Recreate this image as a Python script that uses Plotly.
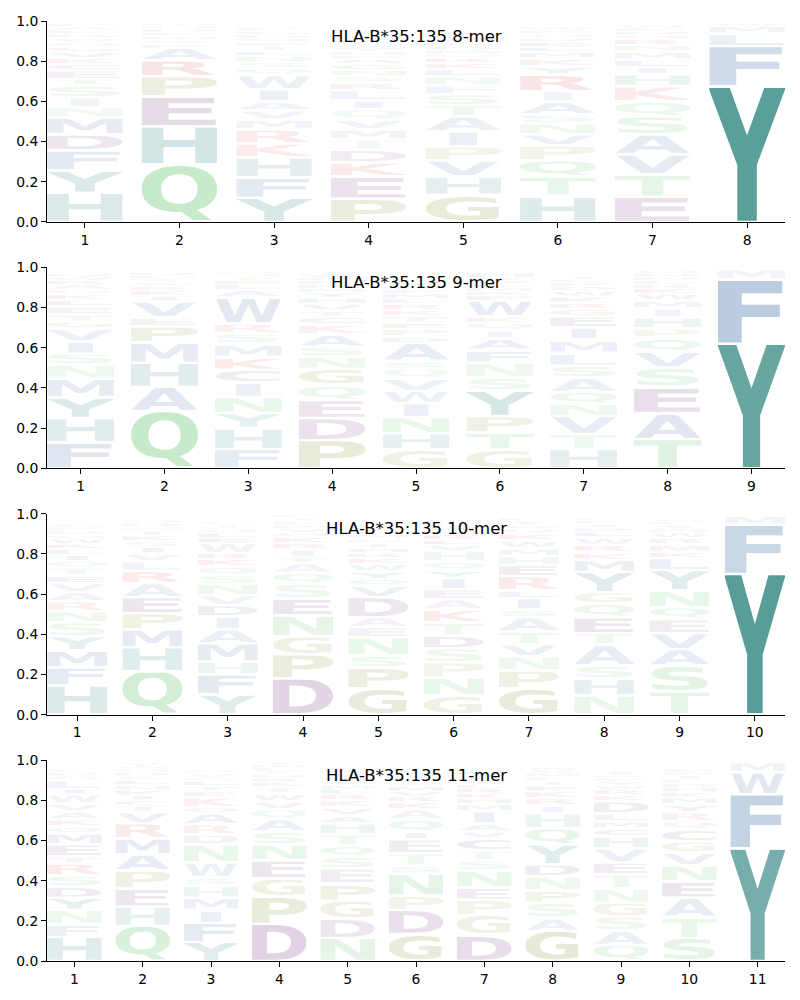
import base64

import plotly.graph_objects as go
from plotly.subplots import make_subplots

# ---- data: letters bottom -> top per position, with heights ----
TITLES = ["HLA-B*35:135 8-mer", "HLA-B*35:135 9-mer", "HLA-B*35:135 10-mer", "HLA-B*35:135 11-mer"]

MER8_LETTERS = [
    "HYFDMNISTECKVGQWRLAP",
    "QHEPRAKSMLDGN",
    "YFHKRMVAIWQSNLTEGDCP",
    "PEKDTMVQILRSNGAFHYCW",
    "GHVPIATSFNLKRQMDEWCY",
    "HTQPVNSAIRYKMLEDGFW",
    "ETVASQKHILMNRGDFW",
    "YFLMW",
]
MER8_HEIGHTS = [
    [.145, .11, .10, .08, .085, .05, .05, .06, .03, .045, .03, .03, .03, .025, .025, .02, .02, .02, .015, .02],
    [.285, .19, .15, .10, .08, .06, .02, .02, .02, .02, .015, .015, .015],
    [.12, .10, .10, .07, .07, .05, .045, .045, .06, .07, .035, .03, .03, .025, .025, .02, .02, .015, .02, .02],
    [.115, .11, .07, .065, .05, .05, .05, .05, .045, .05, .04, .03, .03, .03, .025, .02, .02, .02, .015, .02],
    [.135, .09, .08, .07, .075, .075, .055, .055, .045, .045, .035, .03, .025, .02, .02, .02, .02, .02, .015, .015],
    [.13, .095, .08, .075, .055, .055, .045, .065, .05, .085, .04, .04, .03, .025, .025, .02, .02, .02, .015],
    [.125, .11, .10, .10, .09, .075, .075, .06, .035, .04, .04, .03, .03, .02, .02, .015, .015],
    [.675, .20, .065, .035, .015],
]

MER9_LETTERS = [
    "FHYMNSIVGTELKQARWD",
    "QAHMPEVIKRSTLD",
    "FHYNICKMSRWALETGQ",
    "PDEQGNSAKCTVHYMRLFW",
    "GHNIWVQSADPETKRLMFCY",
    "GTPYSNFAIQKWERMLDVH",
    "HTVNQASLMIEGRKWDFCY",
    "TAESVQPHIMWKRLNDG",
    "YFM",
]
MER9_HEIGHTS = [
    [.13, .12, .105, .09, .07, .055, .06, .065, .035, .035, .04, .035, .025, .025, .025, .02, .02, .015],
    [.285, .12, .12, .10, .08, .045, .08, .03, .025, .02, .02, .02, .015, .015],
    [.095, .105, .075, .08, .07, .065, .065, .065, .05, .05, .13, .04, .025, .02, .02, .015, .015],
    [.14, .11, .09, .075, .08, .06, .05, .06, .05, .04, .03, .035, .03, .025, .02, .02, .02, .015, .02],
    [.095, .08, .08, .07, .06, .06, .05, .04, .09, .03, .04, .03, .035, .03, .03, .025, .025, .02, .015, .03],
    [.095, .085, .08, .13, .065, .07, .065, .055, .04, .04, .03, .08, .025, .02, .02, .02, .015, .015, .025],
    [.095, .075, .09, .06, .06, .07, .06, .065, .065, .06, .055, .04, .03, .03, .03, .02, .02, .015, .015],
    [.145, .13, .13, .095, .08, .07, .045, .055, .045, .04, .035, .025, .02, .02, .02, .015, .015],
    [.62, .32, .05],
]

MER10_LETTERS = [
    "HFMYSNRAVETQILKWGDPC",
    "QHMPEARLVISKTNDG",
    "YFHMAIDVNSQKRWELGTC",
    "DPGNESQATIRKHVMLYF",
    "GPSNEADVQYWKRHTLMFIC",
    "GNPSDTKAEIYQHVLRMWFC",
    "GPNVTASILREHMWKQDYF",
    "NHSATEQGYMKRWLDIFP",
    "TSAVEQNYLKMRWHIFG",
    "YFM",
]
MER10_HEIGHTS = [
    [.145, .09, .085, .07, .07, .055, .05, .045, .045, .04, .035, .035, .03, .03, .025, .025, .02, .02, .02, .015],
    [.215, .12, .09, .08, .08, .07, .06, .05, .04, .03, .03, .025, .025, .02, .02, .015],
    [.10, .10, .065, .09, .07, .065, .055, .05, .055, .045, .045, .035, .03, .05, .025, .025, .02, .02, .015],
    [.18, .12, .09, .105, .085, .07, .055, .05, .03, .04, .03, .03, .02, .02, .02, .02, .015, .015],
    [.13, .105, .06, .09, .05, .05, .10, .055, .035, .04, .035, .03, .025, .025, .025, .02, .02, .02, .015, .02],
    [.095, .09, .075, .07, .065, .065, .065, .05, .05, .055, .04, .045, .05, .03, .025, .025, .02, .02, .015, .015],
    [.13, .09, .07, .06, .065, .07, .04, .055, .04, .07, .055, .045, .04, .04, .03, .025, .02, .02, .015],
    [.095, .085, .065, .105, .055, .08, .07, .055, .10, .06, .04, .035, .04, .025, .02, .02, .015, .015],
    [.115, .13, .08, .08, .07, .06, .085, .10, .06, .03, .04, .03, .025, .02, .02, .015, .015],
    [.70, .245, .045],
]

MER11_LETTERS = [
    "HFNYDSRTEMQKAVWILGPC",
    "QHEPAMRVTCIKNLSDGWY",
    "YFIMHSWNDRAQKETLGVP",
    "DPGENSAQVWTKRHILMY",
    "NDGPESQTHAVKRLMIWYFC",
    "GDPNSTEIQAKRVMHLYWF",
    "DGPENSTCVAIMHKRLQWYF",
    "GASPNDYQHIRKETLMVW",
    "QASGNTEVHCMLDKRWYFPI",
    "STAENVGCQRYMKHDLIWF",
    "YFWM",
]
MER11_HEIGHTS = [
    [.12, .065, .07, .06, .055, .055, .06, .035, .06, .055, .035, .035, .04, .04, .045, .025, .045, .02, .02, .015],
    [.175, .095, .09, .09, .08, .08, .075, .055, .035, .025, .025, .025, .025, .025, .02, .02, .015, .015, .015],
    [.095, .095, .065, .06, .06, .04, .075, .09, .05, .05, .055, .03, .05, .03, .025, .025, .02, .02, .015],
    [.185, .135, .09, .09, .08, .065, .06, .05, .04, .04, .03, .025, .02, .02, .015, .015, .015, .015],
    [.115, .095, .09, .085, .075, .06, .055, .055, .055, .04, .04, .035, .03, .025, .02, .02, .02, .02, .015, .015],
    [.135, .12, .07, .11, .04, .06, .07, .04, .06, .05, .035, .03, .025, .025, .02, .02, .015, .015, .015],
    [.13, .10, .075, .06, .085, .05, .05, .06, .035, .04, .06, .035, .03, .025, .025, .02, .02, .015, .015, .015],
    [.15, .065, .075, .06, .07, .06, .10, .08, .075, .04, .035, .035, .025, .025, .02, .02, .015, .015],
    [.08, .07, .07, .07, .07, .07, .06, .07, .06, .04, .035, .04, .06, .03, .03, .02, .02, .015, .015, .02],
    [.115, .105, .095, .08, .08, .065, .055, .06, .04, .045, .04, .035, .025, .025, .02, .02, .02, .015, .015],
    [.56, .27, .11, .05],
]

PANELS = [
    (MER8_LETTERS, MER8_HEIGHTS),
    (MER9_LETTERS, MER9_HEIGHTS),
    (MER10_LETTERS, MER10_HEIGHTS),
    (MER11_LETTERS, MER11_HEIGHTS),
]

# ---- styling ----
AA_COLORS = {
    "Y": (59, 140, 135), "H": (100, 160, 160),
    "F": (95, 135, 182), "W": (110, 130, 180), "M": (110, 130, 180),
    "L": (110, 135, 185), "I": (110, 135, 185), "V": (110, 135, 185), "A": (110, 135, 185),
    "Q": (110, 200, 120), "N": (120, 200, 125), "S": (120, 200, 125), "T": (120, 200, 125),
    "D": (145, 95, 155), "E": (150, 100, 155), "C": (150, 100, 155),
    "K": (215, 90, 90), "R": (215, 90, 90),
    "G": (160, 160, 90), "P": (160, 160, 90),
}

# approximate ink boxes of DejaVu Sans Bold glyphs (em * 100)
CAP = 72.9
ROUND = ("C", "G", "O", "S")
GLYPH_X = {
    "A": (0.0, 77.4), "C": (5.0, 68.0), "D": (9.1, 78.0), "E": (9.1, 62.0),
    "F": (9.1, 62.0), "G": (5.0, 77.0), "H": (9.1, 74.6), "I": (-7.1, 44.3),
    "K": (9.1, 78.0), "L": (9.1, 62.0), "M": (9.1, 90.4), "N": (9.1, 74.6),
    "P": (9.1, 69.0), "Q": (5.0, 80.0), "R": (9.1, 77.0), "S": (5.0, 67.0),
    "T": (0.5, 67.7), "V": (0.0, 77.4), "W": (1.3, 109.0), "Y": (-0.3, 72.7),
}


def glyph_uri(letter, rgb, alpha):
    x0, x1 = GLYPH_X[letter]
    if letter == "Q":
        y0, y1 = -74.3, 15.7
    elif letter in ROUND:
        y0, y1 = -74.3, 1.4
    else:
        y0, y1 = -CAP, 0.0
    w, h = x1 - x0, y1 - y0
    svg = (
        f'<svg xmlns="http://www.w3.org/2000/svg" width="{w:.1f}" height="{h:.1f}" '
        f'viewBox="{x0} {y0} {w:.1f} {h:.1f}" preserveAspectRatio="none">'
        f'<text x="0" y="0" font-family="DejaVu Sans" font-weight="bold" font-size="100" '
        f'fill="rgb{rgb}" fill-opacity="{alpha:.3f}">{letter}</text></svg>'
    )
    return "data:image/svg+xml;base64," + base64.b64encode(svg.encode()).decode()


fig = make_subplots(rows=4, cols=1, vertical_spacing=0.0484)

images = []
for i, (letters_list, heights_list) in enumerate(PANELS):
    n = len(letters_list)
    xa = "x" if i == 0 else f"x{i + 1}"
    ya = "y" if i == 0 else f"y{i + 1}"
    for pos, (letters, heights) in enumerate(zip(letters_list, heights_list), start=1):
        base = 0.0
        for letter, h in zip(letters, heights):
            pad = min(0.006, 0.15 * h)
            alpha = min(0.85, 0.06 + 1.15 * h)
            images.append(dict(
                source=glyph_uri(letter, AA_COLORS[letter], alpha),
                xref=xa, yref=ya,
                x=pos - 0.4, y=base + h - pad,
                sizex=0.8, sizey=h - 2 * pad,
                xanchor="left", yanchor="top",
                sizing="stretch", layer="above",
            ))
            base += h
    # invisible trace so the axes exist
    fig.add_trace(go.Scatter(x=[1, n], y=[0, 0], mode="markers", marker_opacity=0,
                             hoverinfo="skip", showlegend=False), row=i + 1, col=1)
    fig.update_xaxes(range=[0.6, n + 0.4], tickmode="array", tickvals=list(range(1, n + 1)),
                     row=i + 1, col=1)
    fig.add_annotation(text=TITLES[i], xref=f"{xa} domain", yref=f"{ya} domain",
                       x=0.5, y=0.925, showarrow=False, xanchor="center", yanchor="middle",
                       font=dict(size=16.5, color="black", family="DejaVu Sans"))

fig.update_xaxes(showline=True, linecolor="black", linewidth=1, ticks="outside", ticklen=5,
                 tickwidth=1, tickcolor="black", showgrid=False, zeroline=False,
                 tickfont=dict(size=13.9, family="DejaVu Sans", color="black"))
fig.update_yaxes(range=[0, 1], tickmode="array", tickvals=[0, 0.2, 0.4, 0.6, 0.8, 1.0],
                 ticktext=["0.0", "0.2", "0.4", "0.6", "0.8", "1.0"],
                 showline=True, linecolor="black", linewidth=1, ticks="outside", ticklen=5,
                 tickwidth=1, tickcolor="black", showgrid=False, zeroline=False,
                 tickfont=dict(size=13.9, family="DejaVu Sans", color="black"))

fig.update_layout(
    images=images,
    width=800, height=1000,
    margin=dict(l=47, r=15, t=21, b=39),
    plot_bgcolor="white", paper_bgcolor="white",
    showlegend=False,
)

# the page body has a default 8px margin; drop it so the figure sits at the window corner
fig.write_html("out.html", config={"displayModeBar": False},
               post_script="document.body.style.margin='0';")
